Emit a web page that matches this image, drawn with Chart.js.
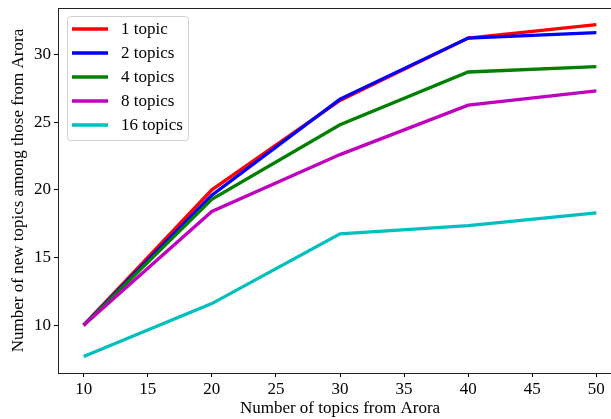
<!DOCTYPE html>
<html>
<head>
<meta charset="utf-8">
<script src="https://cdn.jsdelivr.net/npm/chart.js@4"></script>
<style>
  html, body { margin: 0; padding: 0; background: #fff; overflow: hidden; }
  #wrap { width: 630px; height: 419px; }
</style>
</head>
<body>
<div id="wrap"><canvas id="topicChart"></canvas></div>
<script>
let xValues = [10, 20, 30, 40, 50];
let oneTopic = [10, 20.0, 26.6, 31.2, 32.2];
let twoTopics = [10, 19.6, 26.7, 31.2, 31.6];
let fourTopics = [10, 19.3, 24.8, 28.7, 29.1];
let eightTopics = [10, 18.4, 22.6, 26.25, 27.3];
let sixteenTopics = [7.7, 11.6, 16.75, 17.35, 18.3];
let seriesNames = ['1 topic', '2 topics', '4 topics', '8 topics', '16 topics'];
let xTicks = [10, 15, 20, 25, 30, 35, 40, 45, 50];
let yTicks = [10, 15, 20, 25, 30];

const colors = ['#ff0000', '#0000ff', '#008000', '#bf00bf', '#00bfbf'];
const fontFamily = '"Liberation Serif", "DejaVu Serif", serif';

function toPoints(values) {
    return values.map((v, i) => ({ x: xValues[i], y: v }));
}

function populateChartData() {
    let allSeries = [oneTopic, twoTopics, fourTopics, eightTopics, sixteenTopics];
    return {
        datasets: allSeries.map((vals, i) => ({
            label: seriesNames[i],
            data: toPoints(vals),
            borderColor: colors[i],
            backgroundColor: colors[i],
            borderWidth: 3.3,
            pointRadius: 0,
            tension: 0,
            fill: false,
            order: allSeries.length - i
        }))
    };
}

// box round the plot and the legend in the upper left corner
const framePlugin = {
    id: 'frame',
    afterDraw(chart) {
        const ctx = chart.ctx;
        const a = chart.chartArea;
        ctx.save();
        ctx.strokeStyle = '#222';
        ctx.lineWidth = 1;
        ctx.strokeRect(a.left + 0.5, a.top + 0.5, a.right - a.left, a.bottom - a.top);

        const bx = a.left + 9, by = a.top + 8, bw = 121, bh = 124;
        ctx.fillStyle = 'rgba(255,255,255,0.8)';
        ctx.strokeStyle = '#d0d0d0';
        ctx.beginPath();
        ctx.roundRect(bx + 0.5, by + 0.5, bw, bh, 3);
        ctx.fill();
        ctx.stroke();

        ctx.font = '17px ' + fontFamily;
        ctx.textBaseline = 'middle';
        ctx.textAlign = 'left';
        chart.data.datasets.forEach((ds, i) => {
            const y = by + 13 + i * 24;
            ctx.strokeStyle = ds.borderColor;
            ctx.lineWidth = 3.3;
            ctx.beginPath();
            ctx.moveTo(bx + 5, y);
            ctx.lineTo(bx + 41, y);
            ctx.stroke();
            ctx.fillStyle = '#000';
            ctx.fillText(ds.label, bx + 54, y + 1);
        });
        ctx.restore();
    }
};

function createChart(ctx, chartData) {
    return new Chart(ctx, {
        type: 'line',
        data: chartData,
        plugins: [framePlugin],
        options: {
            responsive: true,
            maintainAspectRatio: false,
            animation: false,
            layout: { padding: { left: 0, right: 8, top: 8, bottom: 0 } },
            scales: {
                x: {
                    type: 'linear',
                    min: 8,
                    max: 52,
                    afterBuildTicks: (axis) => { axis.ticks = xTicks.map(v => ({ value: v })); },
                    afterFit: (axis) => {
                        axis.height = 46;
                        axis.paddingLeft = 0;
                        axis.paddingRight = 0;
                    },
                    grid: { drawOnChartArea: false, drawTicks: true, tickLength: 4, color: '#000' },
                    border: { color: '#222' },
                    ticks: { color: '#000', padding: 2, font: { family: fontFamily, size: 17 } },
                    title: {
                        display: true,
                        text: 'Number of topics from Arora',
                        color: '#000',
                        padding: { top: 0, bottom: 0 },
                        font: { family: fontFamily, size: 17 }
                    }
                },
                y: {
                    min: 6.475,
                    max: 33.425,
                    afterBuildTicks: (axis) => { axis.ticks = yTicks.map(v => ({ value: v })); },
                    afterFit: (axis) => {
                        axis.width = 58;
                        axis.paddingTop = 0;
                        axis.paddingBottom = 0;
                    },
                    grid: { drawOnChartArea: false, drawTicks: true, tickLength: 4, color: '#000' },
                    border: { color: '#222' },
                    ticks: { color: '#000', padding: 3, font: { family: fontFamily, size: 17 } },
                    title: {
                        display: true,
                        text: 'Number of new topics among those from Arora',
                        color: '#000',
                        padding: { top: 8, bottom: 4 },
                        font: { family: fontFamily, size: 17 }
                    }
                }
            },
            plugins: {
                legend: { display: false },
                tooltip: { enabled: false }
            }
        }
    });
}

document.addEventListener('DOMContentLoaded', () => {
    const ctx = document.getElementById('topicChart').getContext('2d');
    const chartData = populateChartData();
    createChart(ctx, chartData);
});
</script>
</body>
</html>
